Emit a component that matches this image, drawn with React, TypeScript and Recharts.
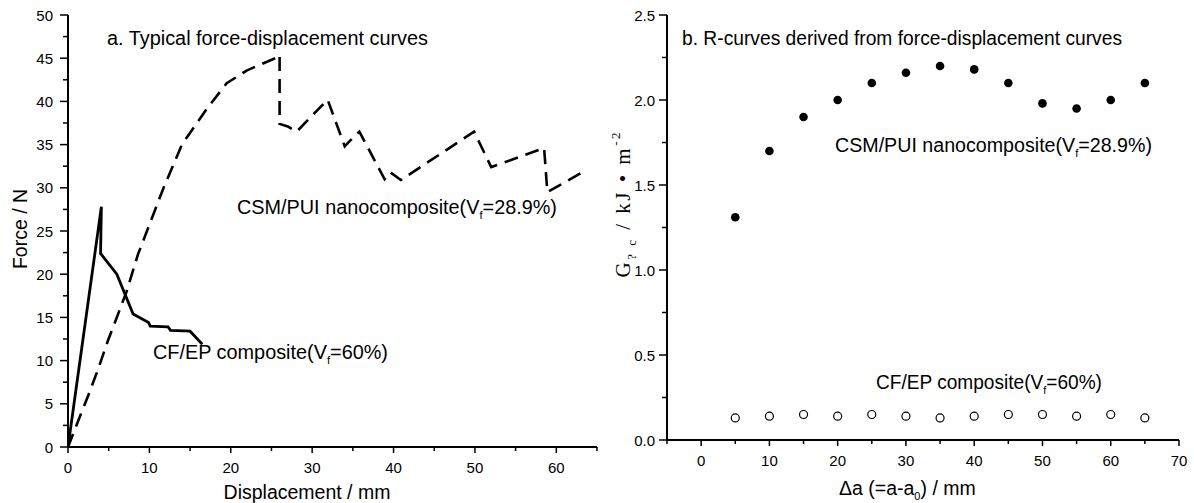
import React from "react";
import { ComposedChart, Line, Scatter, XAxis, YAxis } from "recharts";

// a. force-displacement curves
const cfDisp = [0, 4.1, 4.0, 6.0, 8.0, 9.9, 10.1, 12.3, 12.6, 15.0, 16.5];
const cfForce = [0, 27.8, 22.4, 20.0, 15.4, 14.4, 14.0, 13.9, 13.5, 13.4, 11.9];

const csmDisp = [
  0, 1.2, 2.5, 3.7, 4.9, 6.0, 7.2, 8.6, 9.3, 11.7, 14.0, 17.1, 19.5, 22.0, 25.7, 26.0, 26.0, 27.0, 28.1,
  31.9, 34.0, 34.6, 35.8, 38.9, 39.6, 40.9, 49.9, 52.0, 58.5, 58.9, 63.4,
];
const csmForce = [
  0, 2.9, 6.0, 9.0, 12.3, 15.0, 18.0, 22.3, 24.0, 29.9, 35.0, 39.2, 42.1, 43.6, 45.1, 45.4, 37.4, 37.1, 36.5,
  40.2, 34.8, 35.4, 36.5, 31.0, 31.8, 30.9, 36.5, 32.4, 34.6, 29.5, 31.9,
];

// b. R-curves
const crackGrowth = [5, 10, 15, 20, 25, 30, 35, 40, 45, 50, 55, 60, 65];
const csmG = [1.31, 1.7, 1.9, 2.0, 2.1, 2.16, 2.2, 2.18, 2.1, 1.98, 1.95, 2.0, 2.1];
const cfG = [0.13, 0.14, 0.15, 0.14, 0.15, 0.14, 0.13, 0.14, 0.15, 0.15, 0.14, 0.15, 0.13];

// ticks
const forceTicks = [0, 2.5, 5, 7.5, 10, 12.5, 15, 17.5, 20, 22.5, 25, 27.5, 30, 32.5, 35, 37.5, 40, 42.5, 45, 47.5, 50];
const forceRightTicks = [0, 5, 10, 15, 20, 25, 30, 35, 40, 45, 50];
const dispTicks = [0, 5, 10, 15, 20, 25, 30, 35, 40, 45, 50, 55, 60, 65];
const dispTopTicks = [0, 6.5, 13, 19.5, 26, 32.5, 39, 45.5, 52, 58.5, 65];
const gTicks = [0, 0.25, 0.5, 0.75, 1, 1.25, 1.5, 1.75, 2, 2.25, 2.5];
const daTicks = [-5, 0, 5, 10, 15, 20, 25, 30, 35, 40, 45, 50, 55, 60, 65, 70];
const daTopTicks = [-5, 2.5, 10, 17.5, 25, 32.5, 40, 47.5, 55, 62.5, 70];

const cfData = cfDisp.map((x, i) => ({ x, y: cfForce[i] }));
const csmData = csmDisp.map((x, i) => ({ x, y: csmForce[i] }));
const csmGData = crackGrowth.map((x, i) => ({ x, y: csmG[i] }));
const cfGData = crackGrowth.map((x, i) => ({ x, y: cfG[i] }));

const FONT = "'Liberation Sans', Arial, sans-serif";
const AXIS = { stroke: "#000", strokeWidth: 2 };

const bottomTick = (isMajor: (v: number) => boolean, fmt: (v: number) => string) => (p: any) => {
  const v = p.payload.value;
  const major = isMajor(v);
  return (
    <g>
      <line x1={p.x} x2={p.x} y1={p.y} y2={p.y + (major ? 6 : 4)} stroke="#000" strokeWidth={1.5} />
      {major && (
        <text x={p.x} y={p.y + 26} textAnchor="middle" fontSize={15} fontFamily={FONT} fill="#000">
          {fmt(v)}
        </text>
      )}
    </g>
  );
};

const leftTick = (isMajor: (v: number) => boolean, fmt: (v: number) => string, gap: number) => (p: any) => {
  const v = p.payload.value;
  const major = isMajor(v);
  return (
    <g>
      <line x1={p.x} x2={p.x - (major ? 8 : 5)} y1={p.y} y2={p.y} stroke="#000" strokeWidth={1.5} />
      {major && (
        <text x={p.x - gap} y={p.y + 5.5} textAnchor="end" fontSize={15} fontFamily={FONT} fill="#000">
          {fmt(v)}
        </text>
      )}
    </g>
  );
};

const topTick = (p: any) => (
  <line x1={p.x} x2={p.x} y1={p.y} y2={p.y + 8} stroke="#000" strokeWidth={1.5} />
);
const rightTick = (p: any) => (
  <line x1={p.x} x2={p.x - 6} y1={p.y} y2={p.y} stroke="#000" strokeWidth={1.5} />
);

const filledDot = (p: any) => <circle cx={p.cx} cy={p.cy} r={4.3} fill="#000" />;
const openDot = (p: any) => <circle cx={p.cx} cy={p.cy} r={4} fill="#fff" stroke="#000" strokeWidth={1.2} />;

const txt = { fontFamily: FONT, fontSize: 19.5, fill: "#000" };

export default function App() {
  return (
    <div style={{ position: "absolute", left: 0, top: 0, width: 1194, height: 503, background: "#fff" }}>
      <div style={{ position: "absolute", left: 0, top: 0 }}>
        <ComposedChart width={600} height={503} margin={{ top: 15, right: 3, bottom: 0, left: 8 }}>
          <XAxis
            xAxisId="b"
            type="number"
            dataKey="x"
            domain={[0, 65]}
            ticks={dispTicks}
            interval={0}
            allowDataOverflow
            height={56}
            tickSize={0}
            tickMargin={0}
            tickLine={false}
            axisLine={AXIS}
            tick={bottomTick((v) => v % 10 === 0 && v <= 60, (v) => String(v))}
          />
          <XAxis
            xAxisId="t"
            orientation="top"
            type="number"
            domain={[0, 65]}
            ticks={dispTopTicks}
            interval={0}
            allowDataOverflow
            height={0}
            tickSize={0}
            tickMargin={0}
            tickLine={false}
            axisLine={AXIS}
            tick={topTick}
          />
          <YAxis
            yAxisId="l"
            type="number"
            dataKey="y"
            domain={[0, 50]}
            ticks={forceTicks}
            interval={0}
            allowDataOverflow
            width={60}
            tickSize={0}
            tickMargin={0}
            tickLine={false}
            axisLine={AXIS}
            tick={leftTick((v) => v % 5 === 0, (v) => String(v), 15)}
          />
          <YAxis
            yAxisId="r"
            orientation="right"
            type="number"
            domain={[0, 50]}
            ticks={forceRightTicks}
            interval={0}
            allowDataOverflow
            width={0}
            tickSize={0}
            tickMargin={0}
            tickLine={false}
            axisLine={AXIS}
            tick={rightTick}
          />
          <Line
            xAxisId="b"
            yAxisId="l"
            data={csmData}
            dataKey="y"
            type="linear"
            stroke="#000"
            strokeWidth={2.6}
            strokeDasharray="14 8"
            dot={false}
            isAnimationActive={false}
          />
          <Line
            xAxisId="b"
            yAxisId="l"
            data={cfData}
            dataKey="y"
            type="linear"
            stroke="#000"
            strokeWidth={2.8}
            dot={false}
            isAnimationActive={false}
          />
        </ComposedChart>
      </div>

      <div style={{ position: "absolute", left: 600, top: 0 }}>
        <ComposedChart width={594} height={503} margin={{ top: 15, right: 15, bottom: 0, left: 7 }}>
          <XAxis
            xAxisId="b"
            type="number"
            dataKey="x"
            domain={[-5, 70]}
            ticks={daTicks}
            interval={0}
            allowDataOverflow
            height={63}
            tickSize={0}
            tickMargin={0}
            tickLine={false}
            axisLine={AXIS}
            tick={bottomTick((v) => v % 10 === 0, (v) => String(v))}
          />
          <XAxis
            xAxisId="t"
            orientation="top"
            type="number"
            domain={[-5, 70]}
            ticks={daTopTicks}
            interval={0}
            allowDataOverflow
            height={0}
            tickSize={0}
            tickMargin={0}
            tickLine={false}
            axisLine={AXIS}
            tick={topTick}
          />
          <YAxis
            yAxisId="l"
            type="number"
            dataKey="y"
            domain={[0, 2.5]}
            ticks={gTicks}
            interval={0}
            allowDataOverflow
            width={60}
            tickSize={0}
            tickMargin={0}
            tickLine={false}
            axisLine={AXIS}
            tick={leftTick((v) => Math.abs(v * 2 - Math.round(v * 2)) < 1e-6, (v) => v.toFixed(1), 12)}
          />
          <YAxis
            yAxisId="r"
            orientation="right"
            type="number"
            domain={[0, 2.5]}
            ticks={gTicks}
            interval={0}
            allowDataOverflow
            width={0}
            tickSize={0}
            tickMargin={0}
            tickLine={false}
            axisLine={AXIS}
            tick={rightTick}
          />
          <Scatter xAxisId="b" yAxisId="l" data={csmGData} shape={filledDot} isAnimationActive={false} />
          <Scatter xAxisId="b" yAxisId="l" data={cfGData} shape={openDot} isAnimationActive={false} />
        </ComposedChart>
      </div>

      <svg width={1194} height={503} style={{ position: "absolute", left: 0, top: 0, pointerEvents: "none" }}>
        <text x={107} y={45} {...txt} textLength={321} lengthAdjust="spacingAndGlyphs">
          a. Typical force-displacement curves
        </text>
        <text x={237} y={214} {...txt} textLength={320} lengthAdjust="spacingAndGlyphs">
          CSM/PUI nanocomposite(V<tspan fontSize={11} dy={5}>f</tspan>
          <tspan dy={-5}>=28.9%)</tspan>
        </text>
        <text x={153} y={359} {...txt} textLength={235} lengthAdjust="spacingAndGlyphs">
          CF/EP composite(V<tspan fontSize={11} dy={5}>f</tspan>
          <tspan dy={-5}>=60%)</tspan>
        </text>
        <text transform="translate(27,229) rotate(-90)" textAnchor="middle" {...txt}>
          Force / N
        </text>
        <text x={307} y={499} textAnchor="middle" {...txt}>
          Displacement / mm
        </text>

        <text x={682} y={45} {...txt} textLength={440} lengthAdjust="spacingAndGlyphs">
          b. R-curves derived from force-displacement curves
        </text>
        <text x={835} y={152} {...txt} textLength={317} lengthAdjust="spacingAndGlyphs">
          CSM/PUI nanocomposite(V<tspan fontSize={11} dy={5}>f</tspan>
          <tspan dy={-5}>=28.9%)</tspan>
        </text>
        <text x={876} y={389} {...txt} textLength={226} lengthAdjust="spacingAndGlyphs">
          CF/EP composite(V<tspan fontSize={11} dy={5}>f</tspan>
          <tspan dy={-5}>=60%)</tspan>
        </text>
        <text
          transform="translate(630,205) rotate(-90)"
          textAnchor="middle"
          fontFamily="'Liberation Serif', 'Times New Roman', serif"
          fontSize={21}
          fill="#000"
          textLength={145}
          lengthAdjust="spacing"
        >
          G<tspan fontSize={13} dy={6}>?  c</tspan>
          <tspan dy={-6}>  /  kJ • m</tspan>
          <tspan fontSize={13} dy={-10}>-2</tspan>
        </text>
        <text x={839} y={495} {...txt}>
          Δa (=a-a<tspan fontSize={11} dy={5}>0</tspan>
          <tspan dy={-5}>) / mm</tspan>
        </text>
      </svg>
    </div>
  );
}
